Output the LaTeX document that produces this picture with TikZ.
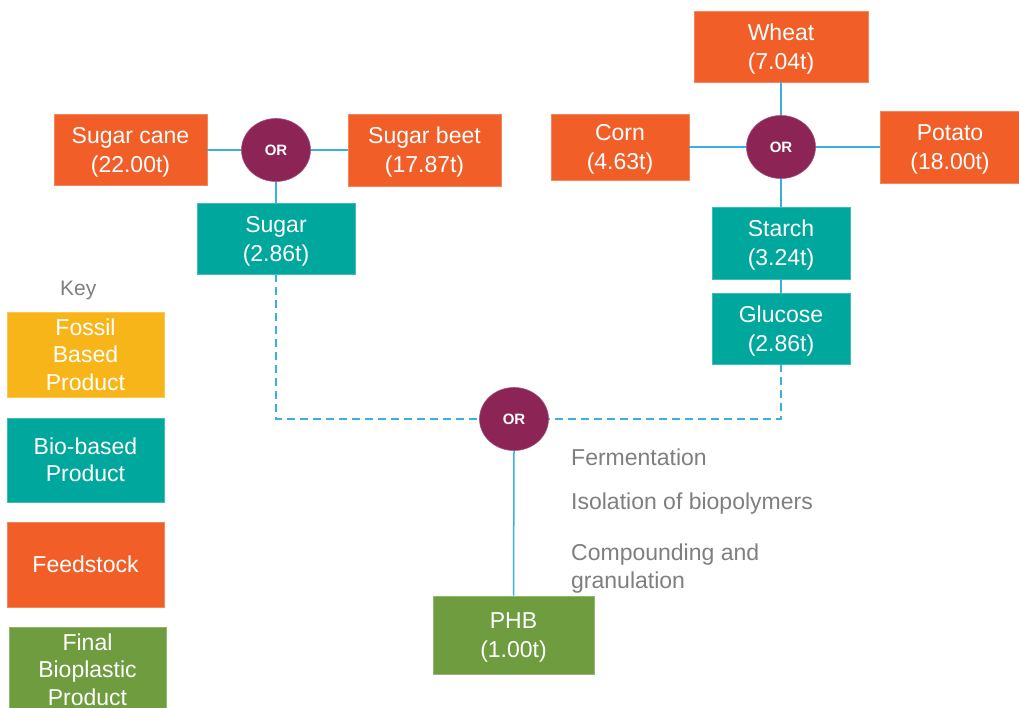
\documentclass[tikz,border=0pt]{standalone}
\usepackage{fontspec}
\setmainfont{Liberation Sans}
\usetikzlibrary{shapes.geometric}
\definecolor{feedc}{HTML}{F15E28}
\definecolor{bioc}{HTML}{00A79D}
\definecolor{fossilc}{HTML}{F8B51A}
\definecolor{finalc}{HTML}{6E9C3F}
\definecolor{orc}{HTML}{8C2456}
\definecolor{linec}{HTML}{3CAEE2}
\definecolor{grayt}{HTML}{7F7F7F}
\newcommand{\twoline}[1]{\raisebox{-2.5pt}[\height][\depth]{\begin{tabular}{@{}c@{}}#1\end{tabular}}}
\tikzset{
  box/.style={rectangle, inner sep=0pt, align=center, text=white,
    font=\fontsize{23}{29}\selectfont},
  feed/.style={box, fill=feedc, draw=feedc!75!white, line width=0.6pt},
  bio/.style={box, fill=bioc, draw=bioc!75!white, line width=0.6pt},
  fossil/.style={box, fill=fossilc, draw=fossilc!75!white, line width=0.6pt},
  final/.style={box, fill=finalc, draw=finalc!75!white, line width=0.6pt},
  keyfont/.style={font=\fontsize{23}{27.5}\selectfont},
  ornode/.style={ellipse, fill=orc, draw=orc!80!white, line width=0.6pt, inner sep=0pt,
    minimum width=69pt, minimum height=63pt, text=white,
    font=\fontsize{15}{15}\selectfont\bfseries},
  conn/.style={draw=linec, line width=1.5pt},
  dconn/.style={draw=linec, line width=1.5pt, dash pattern=on 8pt off 5pt},
  steptext/.style={text=grayt, inner sep=0pt, align=left,
    font=\fontsize{23}{28}\selectfont},
}
\begin{document}
\begin{tikzpicture}[x=1pt,y=-1pt]
\clip (0,0) rectangle (1019,707);
\fill[white] (0,0) rectangle (1019,707);
% left group
\node[feed, minimum width=153pt, minimum height=71pt] (cane) at (130.5,150) {\twoline{Sugar cane\\(22.00t)}};
\node[feed, minimum width=153pt, minimum height=72pt] (beet) at (424.5,150) {\twoline{Sugar beet\\(17.87t)}};
\node[ornode] (or1) at (276,150) {OR};
\node[bio, minimum width=158pt, minimum height=71pt] (sugar) at (276,238.5) {\twoline{Sugar\\(2.86t)}};
% right group
\node[feed, minimum width=174pt, minimum height=71pt] (wheat) at (781,46.5) {\twoline{Wheat\\(7.04t)}};
\node[feed, minimum width=138pt, minimum height=66pt] (corn) at (620,147) {\twoline{Corn\\(4.63t)}};
\node[feed, minimum width=140pt, minimum height=72pt] (potato) at (950,147) {\twoline{Potato\\(18.00t)}};
\node[ornode] (or2) at (781,147) {OR};
\node[bio, minimum width=138pt, minimum height=72pt] (starch) at (781,243) {\twoline{Starch\\(3.24t)}};
\node[bio, minimum width=138pt, minimum height=71pt] (glucose) at (781,328.5) {\twoline{Glucose\\(2.86t)}};
% bottom
\node[ornode] (or3) at (514,419) {OR};
\node[final, minimum width=161pt, minimum height=78pt] (phb) at (513.5,635) {\twoline{PHB\\(1.00t)}};
\node[steptext, anchor=base west] (ferm) at (571,465) {Fermentation};
\node[steptext, anchor=base west] (iso) at (571,509) {Isolation of biopolymers};
\node[steptext, anchor=north west] (comp) at (571,544) {Compounding and\\granulation};
% key
\node[text=grayt, inner sep=0pt, anchor=base west, font=\fontsize{21}{21}\selectfont] (key) at (60,295) {Key};
\node[fossil, keyfont, minimum width=157pt, minimum height=85pt] (kfossil) at (85.5,354.5) {Fossil\\Based\\Product};
\node[bio, keyfont, minimum width=157pt, minimum height=84pt] (kbio) at (85.5,460) {Bio-based\\Product};
\node[feed, minimum width=157pt, minimum height=85pt] (kfeed) at (85.5,564.5) {Feedstock};
\node[final, keyfont, minimum width=157pt, minimum height=85pt] (kfinal) at (87.5,669.5) {Final\\Bioplastic\\Product};
% connectors
\draw[conn] (cane.east) -- (or1.west);
\draw[conn] (or1.east) -- (beet.west);
\draw[conn] (or1.south) -- (sugar.north);
\draw[conn] (wheat.south) -- (or2.north);
\draw[conn] (corn.east) -- (or2.west);
\draw[conn] (or2.east) -- (potato.west);
\draw[conn] (or2.south) -- (starch.north);
\draw[conn] (starch.south) -- (glucose.north);
\draw[dconn] (sugar.south) |- (or3.west);
\draw[dconn] (glucose.south) |- (or3.east);
\draw[conn] (or3.south) -- (phb.north);
\end{tikzpicture}
\end{document}
